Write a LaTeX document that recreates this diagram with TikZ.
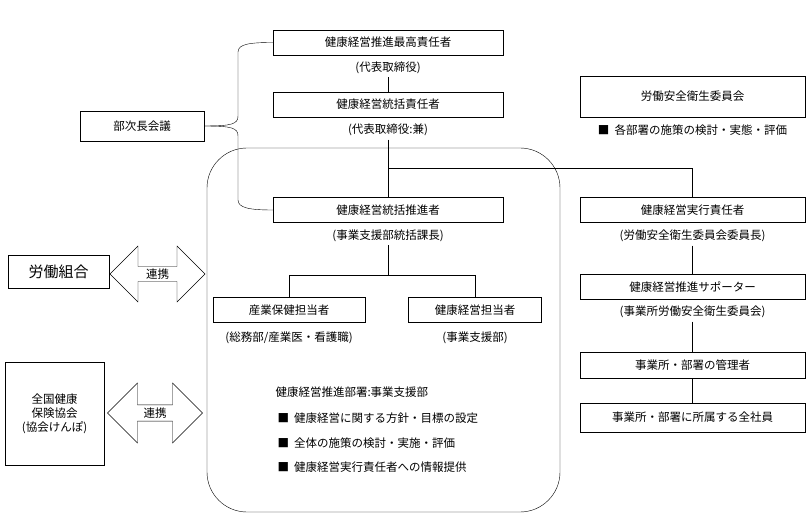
\documentclass[tikz,border=0pt]{standalone}
\usepackage{fontspec}
\setmainfont{Noto Sans CJK JP}
\usetikzlibrary{shapes.arrows,positioning}
\begin{document}
\begin{tikzpicture}[x=1pt,y=-1pt,font=\fontsize{11.5}{14}\selectfont]
          \tikzstyle{box} = [draw, rectangle, minimum height=25, inner sep=2pt]
          \tikzstyle{cbox} = [box, minimum width=230]
          \tikzstyle{rbox} = [box, minimum width=225]
          \tikzstyle{link} = [draw, double arrow, double arrow head extend=15, double arrow tip angle=90, inner sep=0pt, minimum height=95]
          \useasboundingbox (0,0) rectangle (810,526);

          \draw[rounded corners=40] (207,148) rectangle (560,512);

          \node[cbox] (top) at (388,42.5) {健康経営推進最高責任者};
          \node (topsub) at (388,68) {(代表取締役)};
          \node[cbox] (gen) at (388,104.5) {健康経営統括責任者};
          \node (gensub) at (388,130) {(代表取締役:兼)};
          \node[cbox] (prom) at (388,210) {健康経営統括推進者};
          \node (promsub) at (388,236) {(事業支援部統括課長)};
          \node[box, minimum width=152] (hlth) at (289,310) {産業保健担当者};
          \node (hlthsub) at (289,338) {(総務部/産業医・看護職)};
          \node[box, minimum width=133] (staff) at (475,310) {健康経営担当者};
          \node (staffsub) at (475,338) {(事業支援部)};
          \node[anchor=west, align=left] (dept) at (272,392) {健康経営推進部署:事業支援部};
          \node[anchor=west] (d1) at (274,418) {■\ \ 健康経営に関する方針・目標の設定};
          \node[anchor=west] (d2) at (274,443) {■\ \ 全体の施策の検討・実施・評価};
          \node[anchor=west] (d3) at (274,467) {■\ \ 健康経営実行責任者への情報提供};

          \node[rbox, minimum height=41] (comm) at (692.5,96.5) {労働安全衛生委員会};
          \node (commsub) at (692.5,130) {■\ \ 各部署の施策の検討・実態・評価};
          \node[rbox] (exec) at (692.5,210) {健康経営実行責任者};
          \node (execsub) at (692.5,236) {(労働安全衛生委員会委員長)};
          \node[rbox] (sup) at (692.5,287) {健康経営推進サポーター};
          \node (supsub) at (692.5,312) {(事業所労働安全衛生委員会)};
          \node[rbox, minimum height=26] (mgr) at (692.5,365) {事業所・部署の管理者};
          \node[rbox, minimum height=29] (emp) at (692.5,417.5) {事業所・部署に所属する全社員};

          \node[box, minimum width=124, minimum height=30] (meet) at (142,126) {部次長会議};
          \node[box, minimum width=101, minimum height=33, font=\fontsize{15}{17}\selectfont] (union) at (58.5,271.5) {労働組合};
          \node[box, minimum width=99, minimum height=103, align=center] (kyokai) at (54.5,413.5) {全国健康\\保険協会\\(協会けんぽ)};
          \node[link, minimum width=56] (l1) at (157.5,274) {連携};
          \node[link, minimum width=60] (l2) at (155,413) {連携};

          \coordinate (split) at (388,168);
          \coordinate (fork) at (388,275);
          \draw (topsub) -- (gen);
          \draw (gensub) -- (prom);
          \draw (split) -| (exec);
          \draw (promsub) -- (fork);
          \draw (fork -| hlth) -- (fork -| staff);
          \draw (fork -| hlth) -- (hlth);
          \draw (fork -| staff) -- (staff);
          \draw (execsub) -- (sup);
          \draw (supsub) -- (mgr);
          \draw (mgr) -- (emp);
          % brace from the meeting
          \draw (meet.east) .. controls (232,126) and (238,124) .. (238,116) -- (238,52)
                .. controls (238,44) and (250,42.5) .. (top.west);
          \draw (meet.east) .. controls (232,126) and (238,128) .. (238,136) -- (238,200)
                .. controls (238,208) and (250,210) .. (prom.west);
        \end{tikzpicture}
\end{document}
